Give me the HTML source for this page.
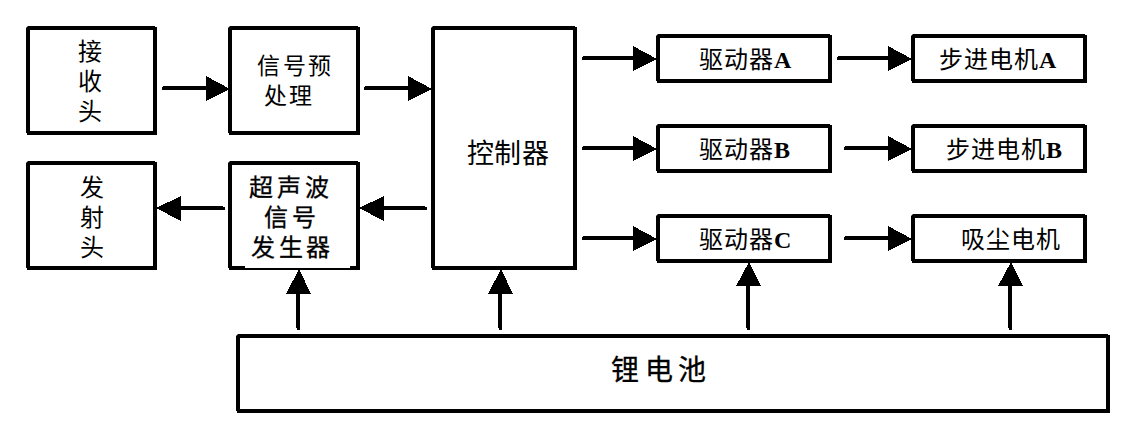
<!DOCTYPE html>
<html lang="zh-CN">
<head>
<meta charset="utf-8">
<title>系统结构框图</title>
<style>
html,body{margin:0;padding:0;background:#fff;}
body{width:1141px;height:441px;position:relative;overflow:hidden;
  font-family:"Liberation Serif",serif;color:#000;}
.bx{position:absolute;box-sizing:border-box;border:4px solid #000;background:#fff;
  clip-path:polygon(2px 0,calc(100% - 2px) 0,calc(100% - 2px) 1px,100% 1px,100% 100%,1px 100%,1px calc(100% - 2px),0 calc(100% - 2px),0 2px);}
.t{position:absolute;white-space:nowrap;line-height:1;margin:0;padding:0;}
.k{font-family:"Liberation Serif",serif;font-weight:400;}
.h{font-weight:500;-webkit-text-stroke:0.3px #000;}
.m{font-family:"Liberation Serif",serif;font-weight:500;}
.m b{font-weight:700;letter-spacing:0;}
svg{position:absolute;left:0;top:0;}
</style>
</head>
<body>

<!-- boxes -->
<div class="bx" style="left:26px;top:26px;width:131px;height:109px"></div>
<div class="bx" style="left:228px;top:26px;width:132px;height:109px"></div>
<div class="bx" style="left:26px;top:161px;width:131px;height:109px"></div>
<div class="bx" style="left:228px;top:161px;width:132px;height:109px"></div>
<div class="bx" style="left:431px;top:26px;width:146px;height:244px"></div>
<div class="bx" style="left:656px;top:34px;width:176px;height:49px"></div>
<div class="bx" style="left:656px;top:124px;width:176px;height:49px"></div>
<div class="bx" style="left:656px;top:214px;width:176px;height:49px"></div>
<div class="bx" style="left:911px;top:34px;width:176px;height:49px"></div>
<div class="bx" style="left:911px;top:124px;width:176px;height:49px"></div>
<div class="bx" style="left:911px;top:214px;width:176px;height:49px"></div>
<div class="bx" style="left:236px;top:334px;width:874px;height:79px"></div>
<!-- white text-box overlapping bottom border of generator box -->
<div style="position:absolute;left:245px;top:262px;width:105px;height:6px;background:#fff"></div>

<!-- arrows -->
<svg width="1141" height="441" viewBox="0 0 1141 441" shape-rendering="crispEdges" fill="#000">
  <!-- receiver -> pre-process -> controller -->
  <polygon points="163,86 207,86 207,90 162,90 162,87 163,87"/><polygon points="206,76 206,101 230,89"/>
  <polygon points="365,86 409,86 409,90 364,90 364,87 365,87"/><polygon points="408,76 408,101 432,89"/>
  <!-- controller -> generator -> emitter -->
  <polygon points="383,206 425,206 425,207 427,207 427,210 383,210"/><polygon points="384,196 384,221 359,208"/>
  <polygon points="180,206 223,206 223,207 225,207 225,210 180,210"/><polygon points="181,196 181,221 156,208"/>
  <!-- controller -> drivers -->
  <polygon points="583,56 634,56 634,60 582,60 582,57 583,57"/><polygon points="633,46 633,71 657,59"/>
  <polygon points="583,146 634,146 634,150 582,150 582,147 583,147"/><polygon points="633,136 633,161 657,149"/>
  <polygon points="583,236 634,236 634,240 582,240 582,237 583,237"/><polygon points="633,226 633,251 657,239"/>
  <!-- drivers -> motors -->
  <polygon points="838,56 889,56 889,60 837,60 837,57 838,57"/><polygon points="888,46 888,71 912,59"/>
  <polygon points="845,146 889,146 889,150 844,150 844,147 845,147"/><polygon points="888,136 888,161 912,149"/>
  <polygon points="845,236 889,236 889,240 844,240 844,237 845,237"/><polygon points="888,226 888,251 912,239"/>
  <!-- battery -> up arrows -->
  <polygon points="296,293 300,293 300,330 297,330 297,328 296,328"/><polygon points="286,294 311,294 299,269"/>
  <polygon points="498,293 502,293 502,330 499,330 499,328 498,328"/><polygon points="488,294 513,294 501,269"/>
  <polygon points="746,285 750,285 750,330 747,330 747,328 746,328"/><polygon points="736,286 761,286 749,262"/>
  <polygon points="1008,285 1012,285 1012,330 1009,330 1009,328 1008,328"/><polygon points="998,286 1023,286 1011,262"/>
</svg>

<!-- labels -->
<span class="t k" style="left:78px;top:40px;font-size:24px">接</span>
<span class="t k" style="left:78px;top:70px;font-size:24px">收</span>
<span class="t k" style="left:78px;top:100px;font-size:24px">头</span>

<span class="t k" style="left:257px;top:55px;font-size:23px;letter-spacing:2.5px">信号预</span>
<span class="t k" style="left:264px;top:85px;font-size:23px;letter-spacing:2px">处理</span>

<span class="t k" style="left:80px;top:176px;font-size:24px">发</span>
<span class="t k" style="left:80px;top:206px;font-size:24px">射</span>
<span class="t k" style="left:80px;top:236px;font-size:24px">头</span>

<span class="t k h" style="left:249px;top:176px;font-size:24px;letter-spacing:4px">超声波</span>
<span class="t k h" style="left:264px;top:206px;font-size:24px;letter-spacing:4px">信号</span>
<span class="t k h" style="left:251px;top:236px;font-size:24px;letter-spacing:3.5px">发生器</span>

<span class="t m" style="left:467px;top:141px;font-size:27px;letter-spacing:0.3px">控制器</span>

<span class="t m" style="left:699px;top:48px;font-size:24px;letter-spacing:1px">驱动器<b>A</b></span>
<span class="t m" style="left:699px;top:138px;font-size:24px;letter-spacing:1px">驱动器<b>B</b></span>
<span class="t m" style="left:699px;top:228px;font-size:24px;letter-spacing:1px">驱动器<b>C</b></span>

<span class="t m" style="left:939px;top:48px;font-size:24px;letter-spacing:1px">步进电机<b>A</b></span>
<span class="t m" style="left:946px;top:138px;font-size:24px;letter-spacing:1px">步进电机<b>B</b></span>
<span class="t m" style="left:961px;top:228px;font-size:24px;letter-spacing:1px">吸尘电机</span>

<span class="t k h" style="left:611px;top:357px;font-size:28px;letter-spacing:5.6px">锂电池</span>

</body>
</html>
